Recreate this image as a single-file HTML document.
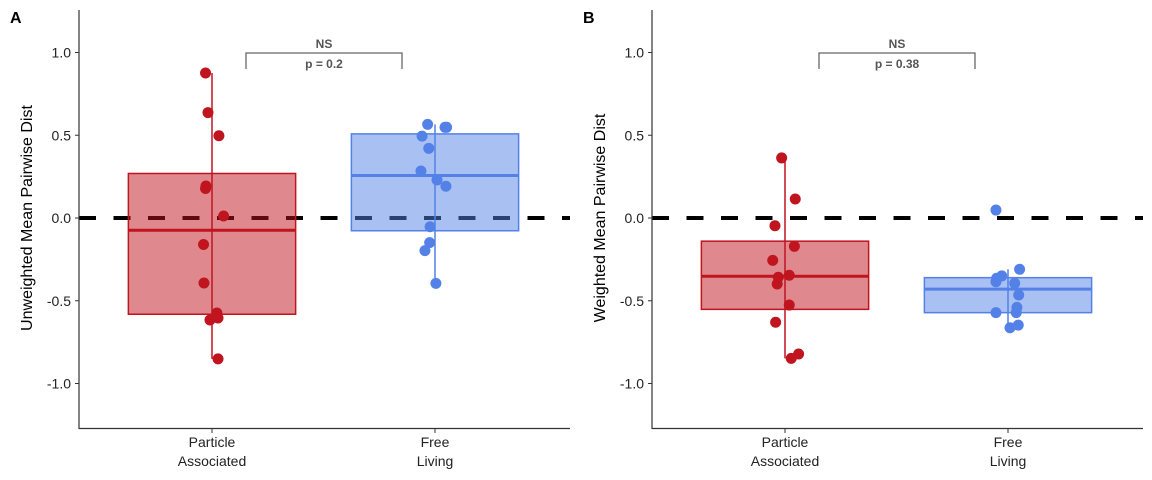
<!DOCTYPE html>
<html><head><meta charset="utf-8"><style>
body{margin:0;background:#fff}
svg{display:block;font-family:"Liberation Sans",Arial,sans-serif}
</style></head><body>
<svg id="chart" width="1152" height="480" xmlns="http://www.w3.org/2000/svg"></svg>
<script>
const categories = ["Particle\nAssociated", "Free\nLiving"];
const yTicks = [1.0, 0.5, 0.0, -0.5, -1.0];
const yTickLabels = ["1.0", "0.5", "0.0", "-0.5", "-1.0"];
const unweightedPA = [0.876, 0.637, 0.497, 0.193, 0.178, 0.012, -0.160, -0.393, -0.574, -0.616, -0.604, -0.851];
const unweightedPAJitter = [-0.029, -0.018, 0.031, -0.027, -0.029, 0.052, -0.038, -0.036, 0.022, -0.009, 0.027, 0.027];
const unweightedFL = [0.566, 0.548, 0.548, 0.495, 0.421, 0.284, 0.230, 0.192, -0.053, -0.149, -0.197, -0.395];
const unweightedFLJitter = [-0.033, 0.045, 0.052, -0.058, -0.028, -0.063, 0.009, 0.049, -0.022, -0.024, -0.045, 0.004];
const weightedPA = [0.363, 0.115, -0.047, -0.171, -0.256, -0.358, -0.346, -0.399, -0.526, -0.630, -0.848, -0.822];
const weightedPAJitter = [-0.015, 0.046, -0.045, 0.042, -0.055, -0.030, 0.019, -0.035, 0.019, -0.042, 0.028, 0.061];
const weightedFL = [0.048, -0.310, -0.350, -0.364, -0.385, -0.394, -0.465, -0.540, -0.572, -0.572, -0.647, -0.663];
const weightedFLJitter = [-0.054, 0.052, -0.028, -0.051, -0.054, 0.030, 0.048, 0.040, 0.037, -0.054, 0.046, 0.009];
const pValues = ["p = 0.2", "p = 0.38"];
const panelTitles = ["Unweighted Mean Pairwise Dist", "Weighted Mean Pairwise Dist"];

const NS = "http://www.w3.org/2000/svg";
const svg = document.getElementById("chart");
function mk(tag, attrs, parent) {
  const e = document.createElementNS(NS, tag);
  for (const k in attrs) e.setAttribute(k, attrs[k]);
  (parent || svg).appendChild(e);
  return e;
}
function quant(arr, p) {
  const s = arr.slice().sort((a, b) => a - b);
  const h = (s.length - 1) * p, lo = Math.floor(h);
  return s[lo] + (h - lo) * ((s[lo + 1] ?? s[lo]) - s[lo]);
}
const yScale = v => 218 - v * 165.5;
const colors = [{line:"#C0141F"}, {line:"#5381E8"}];

function panel(ox, letter, title, series, jitters, pval) {
  const g = mk("g", {});
  
  
  const x0 = ox, x1 = ox + 491;
  const xScale = i => ox + 133 + i * 223;
  const bw = 0.375;
  const L = mk("text", {x: ox - 69, y: 23, "font-size": 16, "font-weight": "bold"}, g);
  L.textContent = letter;
  
  
  const yt = mk("text", {x: 0, y: 0, "font-size": 16, "text-anchor": "middle", transform: `translate(${ox - 47},218) rotate(-90)`}, g);
  yt.textContent = title;
  
  
  yTicks.forEach((v, i) => {
    const y = yScale(v);
    const t = mk("line", {x1: x0 - 4, x2: x0, y1: y, y2: y, stroke: "#333", "stroke-width": 1}, g);
    
    
    const tl = mk("text", {x: x0 - 8, y: y + 5, "font-size": 14, "text-anchor": "end", fill: "#222"}, g);
    tl.textContent = yTickLabels[i];
    
    
  });
  const hl = mk("line", {x1: x0, x2: x1, y1: yScale(0), y2: yScale(0), stroke: "#000", "stroke-width": 4, "stroke-dasharray": "17 17.5"}, g);
  
  
  series.forEach((d, i) => {
    const cx = xScale(i), c = colors[i];
    const q1 = quant(d, 0.25), q3 = quant(d, 0.75), med = quant(d, 0.5), iqr = q3 - q1;
    const inr = d.filter(v => v >= q1 - 1.5 * iqr && v <= q3 + 1.5 * iqr);
    const wl = Math.min(...inr), wh = Math.max(...inr);
    const wk = mk("line", {x1: cx, x2: cx, y1: yScale(wh), y2: yScale(wl), stroke: c.line, "stroke-width": 1.5}, g);
    
    
    const bx = mk("rect", {x: cx - 223 * bw, y: yScale(q3), width: 223 * bw * 2, height: yScale(q1) - yScale(q3), fill: c.line, "fill-opacity": 0.5, stroke: c.line, "stroke-width": 1.5}, g);
    
    
    const md = mk("line", {x1: cx - 223 * bw, x2: cx + 223 * bw, y1: yScale(med), y2: yScale(med), stroke: c.line, "stroke-width": 3}, g);
    
    
  });
  series.forEach((d, i) => {
    d.forEach((v, j) => {
      const p = mk("circle", {cx: xScale(i) + jitters[i][j] * 223, cy: yScale(v), r: 5.5, fill: colors[i].line}, g);
      
      
    });
  });
  const ya = mk("line", {x1: x0, x2: x0, y1: 10, y2: 429, stroke: "#333", "stroke-width": 1.2}, g);
  
  
  const xa = mk("line", {x1: x0, x2: x1, y1: 428.5, y2: 428.5, stroke: "#333", "stroke-width": 1.2}, g);
  
  
  categories.forEach((c, i) => {
    const cx = xScale(i);
    const t = mk("line", {x1: cx, x2: cx, y1: 428, y2: 433, stroke: "#333", "stroke-width": 1}, g);
    
    
    c.split("\n").forEach((ln, k) => {
      const tl = mk("text", {x: cx, y: 447 + k * 19, "font-size": 14, "text-anchor": "middle", fill: "#222"}, g);
      tl.textContent = ln;
      
      
    });
  });
  const bxl = ox + 167, bxr = ox + 323;
  const br = mk("path", {d: `M${bxl},69 V53 H${bxr} V69`, fill: "none", stroke: "#666", "stroke-width": 1.3}, g);
  
  
  const nst = mk("text", {x: (bxl + bxr) / 2, y: 48, "font-size": 12, "font-weight": "bold", "text-anchor": "middle", fill: "#555"}, g);
  nst.textContent = "NS";
  
  
  const pt = mk("text", {x: (bxl + bxr) / 2, y: 68, "font-size": 12, "font-weight": "bold", "text-anchor": "middle", fill: "#555"}, g);
  pt.textContent = pval;
  
  
}
panel(79, "A", panelTitles[0], [unweightedPA, unweightedFL], [unweightedPAJitter, unweightedFLJitter], pValues[0]);
panel(652, "B", panelTitles[1], [weightedPA, weightedFL], [weightedPAJitter, weightedFLJitter], pValues[1]);
</script>
</body></html>
